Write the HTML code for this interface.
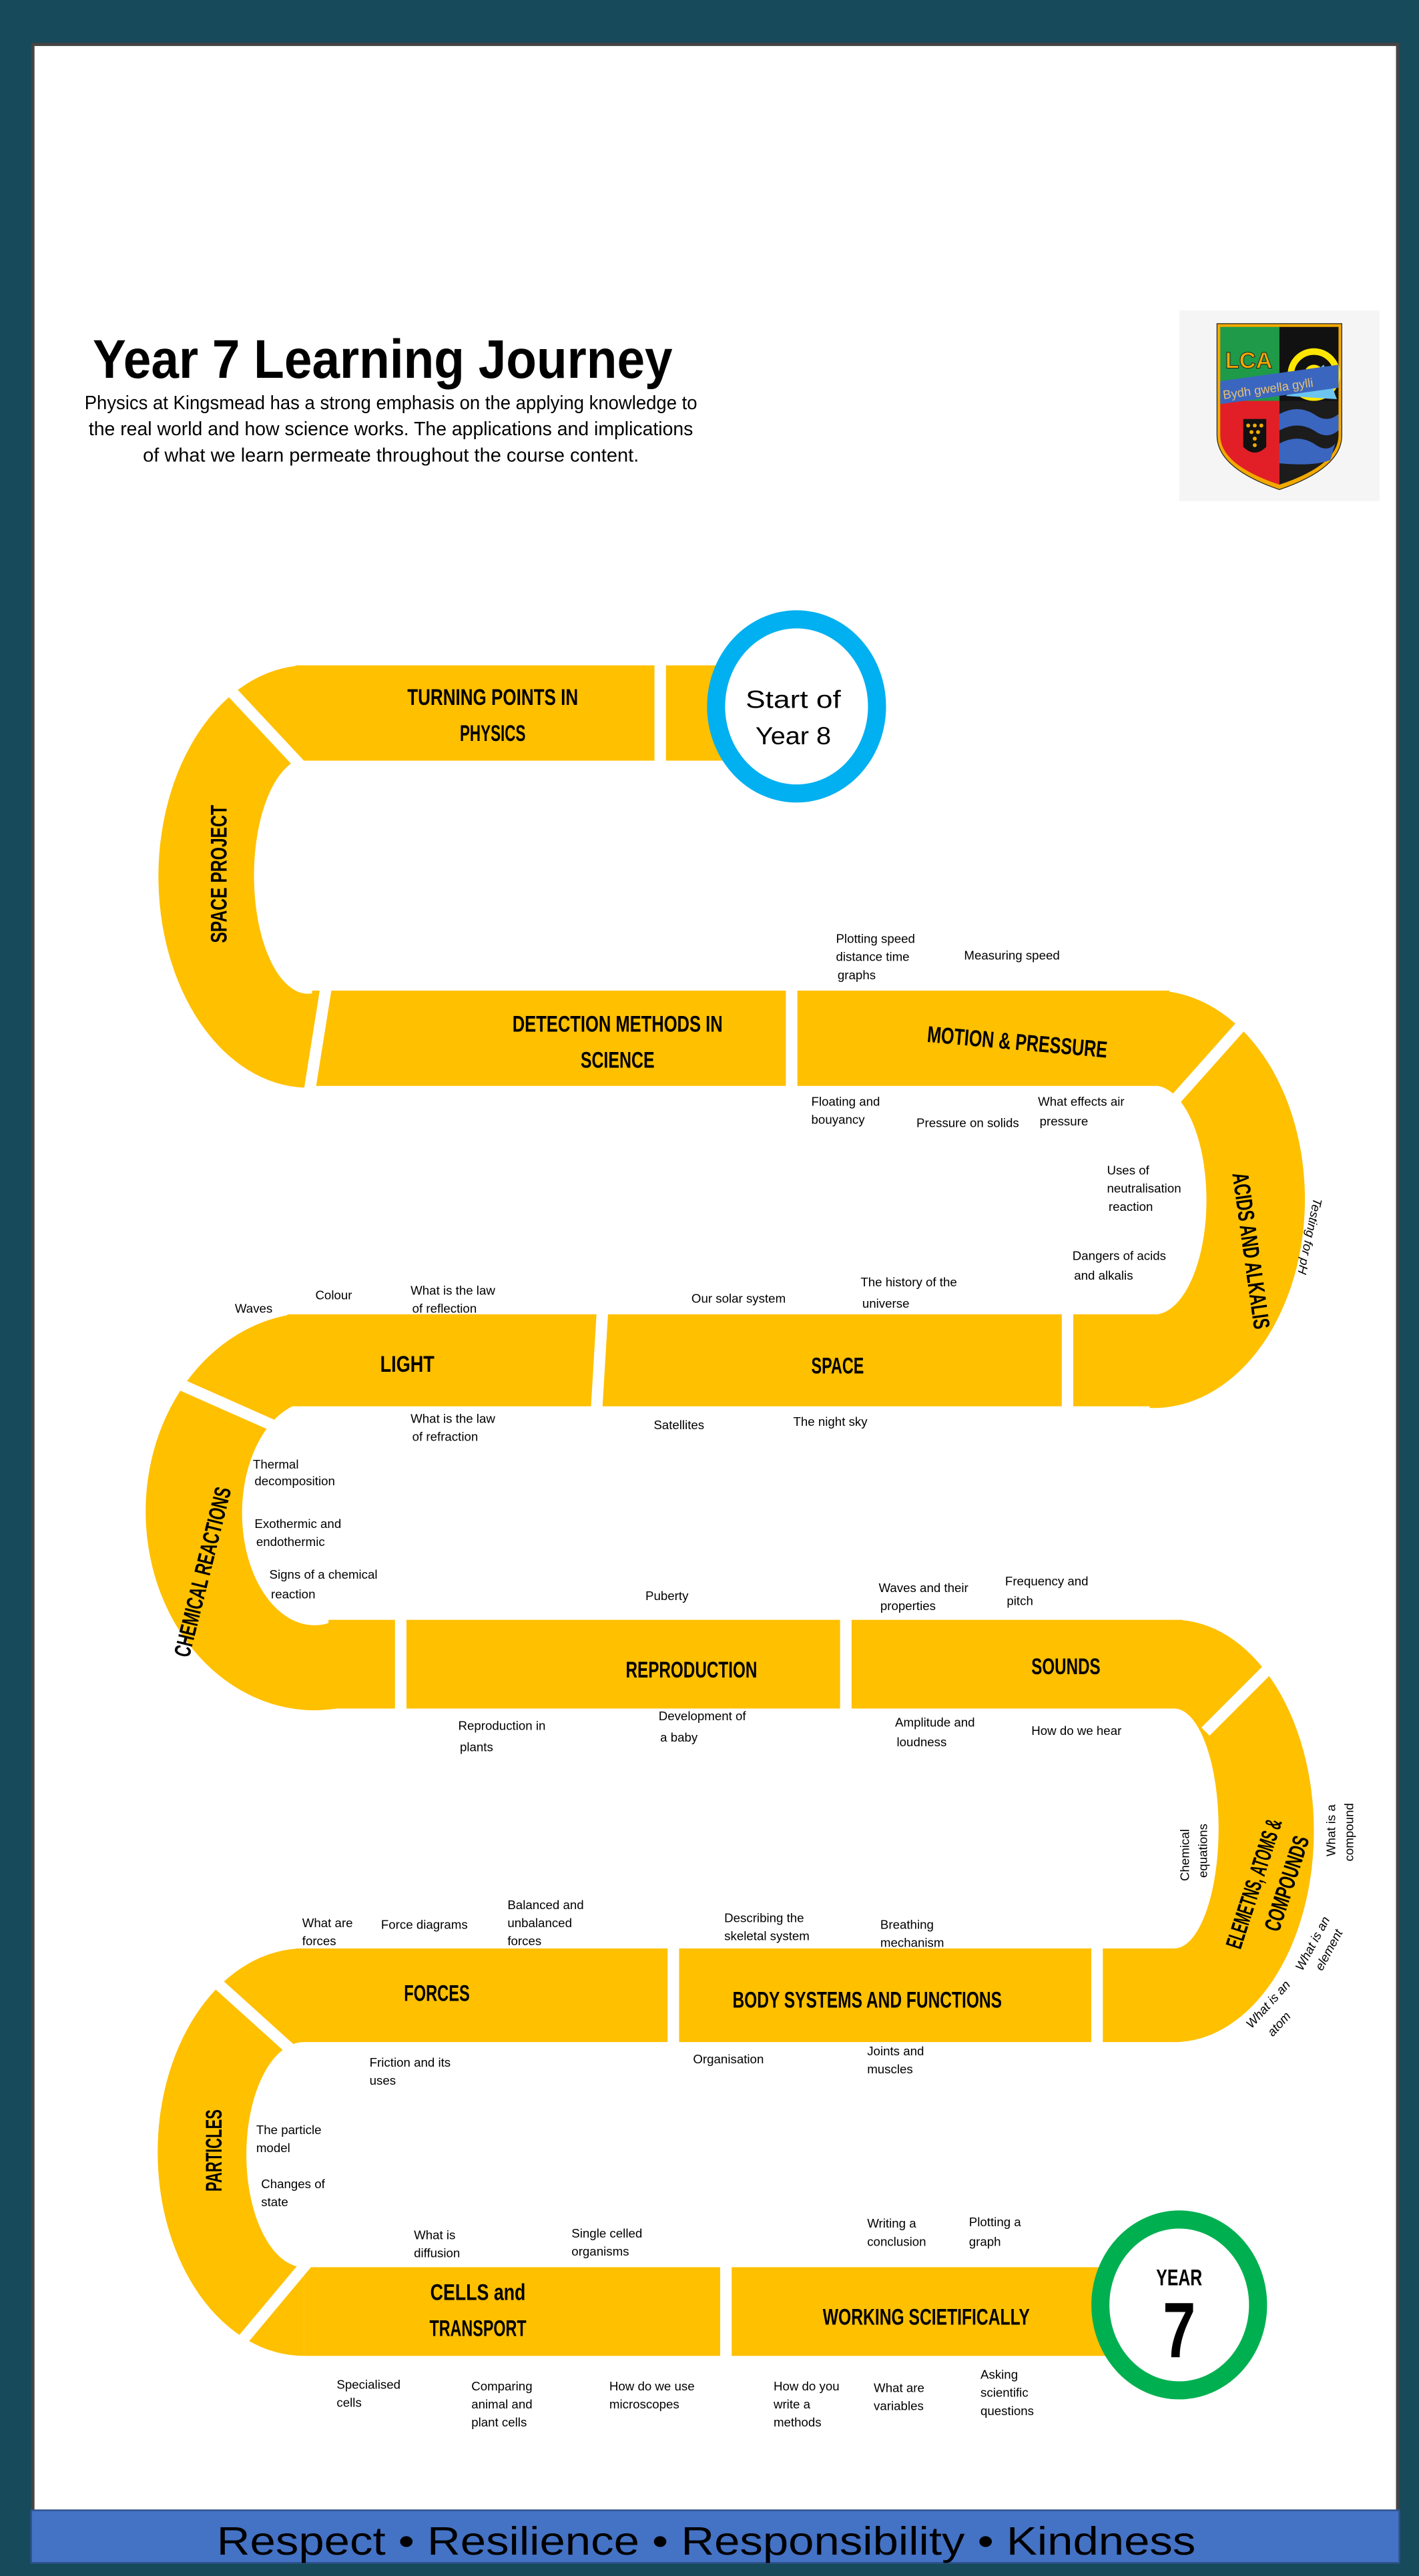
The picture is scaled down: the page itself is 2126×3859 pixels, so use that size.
<!DOCTYPE html>
<html><head><meta charset="utf-8">
<style>
html,body{margin:0;padding:0;background:#174a5a;}
svg{display:block;}
.s{font-family:"Liberation Sans Narrow","Liberation Sans",sans-serif;font-size:7.6px;fill:#000;}
.h{font-family:"Liberation Sans Narrow","Liberation Sans",sans-serif;font-weight:bold;font-size:14px;fill:#000;text-anchor:middle;}
</style></head>
<body>
<svg width="2126" height="3859" viewBox="0 0 864 1568" preserveAspectRatio="none" xmlns="http://www.w3.org/2000/svg">
<rect x="0" y="0" width="864" height="1568" fill="#174a5a"/>
<rect x="19" y="26" width="833" height="1506" fill="#444"/>
<rect x="21" y="28" width="829" height="1502" fill="#fff"/>
<!-- footer -->
<rect x="19" y="1528" width="833" height="32" fill="#4472c4" stroke="#2f528f" stroke-width="1"/>
<text x="430" y="1555" text-anchor="middle" font-family="Liberation Sans Narrow, Liberation Sans, sans-serif" font-size="24" fill="#000" textLength="596" lengthAdjust="spacingAndGlyphs">Respect  •  Resilience  •  Responsibility  •  Kindness</text>

<!-- title -->
<text x="233" y="230" text-anchor="middle" font-family="Liberation Sans Narrow, Liberation Sans, sans-serif" font-weight="bold" font-size="33" textLength="353" lengthAdjust="spacingAndGlyphs">Year 7 Learning Journey</text>
<g font-family="Liberation Sans Narrow, Liberation Sans, sans-serif" font-size="11.5" text-anchor="middle">
<text x="238" y="249" textLength="373" lengthAdjust="spacingAndGlyphs">Physics at Kingsmead has a strong emphasis on the applying knowledge to</text>
<text x="238" y="265" textLength="368" lengthAdjust="spacingAndGlyphs">the real world and how science works.  The applications and implications</text>
<text x="238" y="281" textLength="302" lengthAdjust="spacingAndGlyphs">of what we learn permeate throughout the  course content.</text>
</g>

<!-- logo -->
<rect x="718" y="189" width="122" height="116" fill="#f5f5f5"/>
<path d="M741,197 H817 V265 Q817,285 779,298 Q741,285 741,265 Z" fill="#f2a900" stroke="#222" stroke-width="0.5"/>
<path d="M743,199 H779 V244 H743 Z" fill="#1e9a48"/>
<path d="M779,199 H815 V244 H779 Z" fill="#111"/>
<path d="M743,244 H779 V295 Q743,283 743,265 Z" fill="#e21f26"/>
<path d="M779,244 H815 V265 Q815,283 779,295 Z" fill="#1c1c1c"/>
<path d="M779,252 Q790,246 800,252 Q808,258 815,252 V262 Q808,268 800,262 Q790,256 779,262 Z" fill="#3a66c0"/>
<path d="M779,270 Q790,264 800,270 Q808,276 813,270 L810,280 Q800,284 779,282 Z" fill="#3a66c0"/>
<circle cx="800" cy="228" r="14" fill="none" stroke="#ffe600" stroke-width="4"/>
<circle cx="800" cy="228" r="6" fill="#ffe600"/>
<path d="M783,241 L806,222 L814,243 Z" fill="#6cc5ef"/>
<path d="M743,232 L815,222 L815,236 L743,246 Z" fill="#3a66c0"/>
<text x="745" y="243" font-family="Liberation Sans, sans-serif" font-size="7.5" fill="#e8c070" transform="rotate(-8 745 243)">Bydh gwella gylli</text>
<text x="746" y="224" font-family="Liberation Sans, sans-serif" font-weight="bold" font-size="14" fill="#f2a900" stroke="#222" stroke-width="0.4">LCA</text>
<path d="M757,255 H771 V272 Q764,279 757,272 Z" fill="#111"/>
<g fill="#f2a900"><circle cx="760" cy="259" r="1.2"/><circle cx="764" cy="259" r="1.2"/><circle cx="768" cy="259" r="1.2"/><circle cx="762" cy="263" r="1.2"/><circle cx="766" cy="263" r="1.2"/><circle cx="764" cy="267" r="1.2"/><circle cx="764" cy="271" r="1.2"/></g>

<!-- road -->
<g fill="#ffc000">
<path d="M180,405 H440 V463 H180 Z"/>
<path d="M185,405 A91,128.5 0 0 0 190,662 L195,603 A32,70 0 0 1 180,463 Z"/>
<path d="M190,603 H712 V661 H190 Z"/>
<path d="M705,603 A92,127 0 0 1 700,857 L700,800 A32,69.5 0 0 0 705,661 Z"/>
<path d="M175,800 H705 V856 H175 Z"/>
<path d="M178,800 A102,120 0 0 0 205,1040 L205,986 A42,65 0 0 1 178,856 Z"/>
<path d="M200,986 H720 V1040 H200 Z"/>
<path d="M715,986 A85,128.5 0 0 1 715,1243 L715,1186 A27,73 0 0 0 715,1040 Z"/>
<path d="M180,1186 H718 V1243 H180 Z"/>
<path d="M185,1186 A89,124 0 0 0 185,1434 L185,1380 A35,68.5 0 0 1 185,1243 Z"/>
<path d="M185,1380 H690 V1434 H185 Z"/>
</g>
<g stroke="#fff" stroke-width="7">
<line x1="141" y1="421" x2="184" y2="467"/>
<line x1="199" y1="598" x2="188" y2="667"/>
<line x1="402" y1="398" x2="402" y2="470"/>
<line x1="482" y1="598" x2="482" y2="666"/>
<line x1="756" y1="624" x2="715" y2="670"/>
<line x1="650" y1="795" x2="650" y2="862"/>
<line x1="367" y1="795" x2="363" y2="862"/>
<line x1="106" y1="841" x2="167" y2="868"/>
<line x1="244" y1="981" x2="244" y2="1045"/>
<line x1="515" y1="981" x2="515" y2="1045"/>
<line x1="772" y1="1016" x2="734" y2="1054"/>
<line x1="668" y1="1181" x2="668" y2="1248"/>
<line x1="410" y1="1181" x2="410" y2="1248"/>
<line x1="131" y1="1206" x2="182" y2="1252"/>
<line x1="189" y1="1375" x2="148" y2="1424"/>
<line x1="442" y1="1375" x2="442" y2="1439"/>
</g>

<!-- circles -->
<ellipse cx="485" cy="430" rx="49" ry="53" fill="#fff" stroke="#00b0f0" stroke-width="11"/>
<text x="483" y="431" text-anchor="middle" font-family="Liberation Sans Narrow, Liberation Sans, sans-serif" font-size="15" textLength="58" lengthAdjust="spacingAndGlyphs">Start of</text>
<text x="483" y="453" text-anchor="middle" font-family="Liberation Sans Narrow, Liberation Sans, sans-serif" font-size="15" textLength="46" lengthAdjust="spacingAndGlyphs">Year 8</text>
<ellipse cx="718" cy="1403" rx="48" ry="52" fill="#fff" stroke="#00b050" stroke-width="11"/>
<text x="718" y="1391" class="h" font-size="14" textLength="28" lengthAdjust="spacingAndGlyphs">YEAR</text>
<text transform="translate(718,1435) scale(0.75,1)" font-family="Liberation Sans, sans-serif" font-weight="bold" font-size="48" text-anchor="middle" fill="#000">7</text>

<!-- road headings -->
<text x="300" y="429" class="h" textLength="104" lengthAdjust="spacingAndGlyphs">TURNING POINTS IN</text>
<text x="300" y="451" class="h" textLength="40" lengthAdjust="spacingAndGlyphs">PHYSICS</text>
<text transform="translate(138,532) rotate(-90)" class="h" font-size="13" textLength="84" lengthAdjust="spacingAndGlyphs">SPACE PROJECT</text>
<text x="376" y="628" class="h" textLength="128" lengthAdjust="spacingAndGlyphs">DETECTION METHODS IN</text>
<text x="376" y="650" class="h" textLength="45" lengthAdjust="spacingAndGlyphs">SCIENCE</text>
<text transform="translate(619,639) rotate(5)" class="h" textLength="110" lengthAdjust="spacingAndGlyphs">MOTION &amp; PRESSURE</text>
<text transform="translate(757,762) rotate(82)" class="h" font-size="13" textLength="96" lengthAdjust="spacingAndGlyphs">ACIDS AND ALKALIS</text>
<text transform="translate(795,752) rotate(102)" class="s" text-anchor="middle" font-style="italic">Testing for pH</text>
<text x="248" y="835" class="h" textLength="33" lengthAdjust="spacingAndGlyphs">LIGHT</text>
<text x="510" y="836" class="h" textLength="32" lengthAdjust="spacingAndGlyphs">SPACE</text>
<text transform="translate(128,958) rotate(-76)" class="h" font-size="13" textLength="106" lengthAdjust="spacingAndGlyphs">CHEMICAL REACTIONS</text>
<text x="421" y="1021" class="h" textLength="80" lengthAdjust="spacingAndGlyphs">REPRODUCTION</text>
<text x="649" y="1019" class="h" textLength="42" lengthAdjust="spacingAndGlyphs">SOUNDS</text>
<text transform="translate(768,1148) rotate(-72)" class="h" font-size="13" textLength="82" lengthAdjust="spacingAndGlyphs">ELEMETNS, ATOMS &amp;</text>
<text transform="translate(788,1148) rotate(-72)" class="h" font-size="13" textLength="60" lengthAdjust="spacingAndGlyphs">COMPOUNDS</text>
<text x="266" y="1218" class="h" textLength="40" lengthAdjust="spacingAndGlyphs">FORCES</text>
<text x="528" y="1222" class="h" textLength="164" lengthAdjust="spacingAndGlyphs">BODY SYSTEMS AND FUNCTIONS</text>
<text transform="translate(135,1309) rotate(-90)" class="h" font-size="13" textLength="50" lengthAdjust="spacingAndGlyphs">PARTICLES</text>
<text x="291" y="1400" class="h" textLength="58" lengthAdjust="spacingAndGlyphs">CELLS and</text>
<text x="291" y="1422" class="h" textLength="59" lengthAdjust="spacingAndGlyphs">TRANSPORT</text>
<text x="564" y="1415" class="h" textLength="126" lengthAdjust="spacingAndGlyphs">WORKING SCIETIFICALLY</text>

<!-- small labels -->
<g class="s">
<text x="509" y="574">Plotting speed</text><text x="509" y="585">distance time</text><text x="510" y="596">graphs</text>
<text x="587" y="584">Measuring speed</text>
<text x="494" y="673">Floating and</text><text x="494" y="684">bouyancy</text>
<text x="558" y="686">Pressure on solids</text>
<text x="632" y="673">What effects air</text><text x="633" y="685">pressure</text>
<text x="674" y="715">Uses of</text><text x="674" y="726">neutralisation</text><text x="675" y="737">reaction</text>
<text x="653" y="767">Dangers of acids</text><text x="654" y="779">and alkalis</text>
<text x="143" y="799">Waves</text>
<text x="192" y="791">Colour</text>
<text x="250" y="788">What is the law</text><text x="251" y="799">of reflection</text>
<text x="421" y="793">Our solar system</text>
<text x="524" y="783">The history of the</text><text x="525" y="796">universe</text>
<text x="250" y="866">What is the law</text><text x="251" y="877">of refraction</text>
<text x="398" y="870">Satellites</text>
<text x="483" y="868">The night sky</text>
<text x="154" y="894">Thermal</text><text x="155" y="904">decomposition</text>
<text x="155" y="930">Exothermic and</text><text x="156" y="941">endothermic</text>
<text x="164" y="961">Signs of a chemical</text><text x="165" y="973">reaction</text>
<text x="393" y="974">Puberty</text>
<text x="535" y="969">Waves and their</text><text x="536" y="980">properties</text>
<text x="612" y="965">Frequency and</text><text x="613" y="977">pitch</text>
<text x="279" y="1053">Reproduction in</text><text x="280" y="1066">plants</text>
<text x="401" y="1047">Development of</text><text x="402" y="1060">a baby</text>
<text x="545" y="1051">Amplitude and</text><text x="546" y="1063">loudness</text>
<text x="628" y="1056">How do we hear</text>
<text transform="translate(724,1145) rotate(-90)">Chemical</text><text transform="translate(735,1143) rotate(-90)">equations</text>
<text transform="translate(813,1130) rotate(-90)">What is a</text><text transform="translate(824,1133) rotate(-90)">compound</text>
<text transform="translate(793,1200) rotate(-62)" font-style="italic">What is an</text><text transform="translate(805,1200) rotate(-62)" font-style="italic">element</text>
<text transform="translate(762,1235) rotate(-48)" font-style="italic">What is an</text><text transform="translate(775,1240) rotate(-48)" font-style="italic">atom</text>
<text x="184" y="1173">What are</text><text x="184" y="1184">forces</text>
<text x="232" y="1174">Force diagrams</text>
<text x="309" y="1162">Balanced and</text><text x="309" y="1173">unbalanced</text><text x="309" y="1184">forces</text>
<text x="441" y="1170">Describing the</text><text x="441" y="1181">skeletal system</text>
<text x="536" y="1174">Breathing</text><text x="536" y="1185">mechanism</text>
<text x="225" y="1258">Friction and its</text><text x="225" y="1269">uses</text>
<text x="422" y="1256">Organisation</text>
<text x="528" y="1251">Joints and</text><text x="528" y="1262">muscles</text>
<text x="156" y="1299">The particle</text><text x="156" y="1310">model</text>
<text x="159" y="1332">Changes of</text><text x="159" y="1343">state</text>
<text x="252" y="1363">What is</text><text x="252" y="1374">diffusion</text>
<text x="348" y="1362">Single celled</text><text x="348" y="1373">organisms</text>
<text x="528" y="1356">Writing a</text><text x="528" y="1367">conclusion</text>
<text x="590" y="1355">Plotting a</text><text x="590" y="1367">graph</text>
<text x="205" y="1454">Specialised</text><text x="205" y="1465">cells</text>
<text x="287" y="1455">Comparing</text><text x="287" y="1466">animal and</text><text x="287" y="1477">plant cells</text>
<text x="371" y="1455">How do we use</text><text x="371" y="1466">microscopes</text>
<text x="471" y="1455">How do you</text><text x="471" y="1466">write a</text><text x="471" y="1477">methods</text>
<text x="532" y="1456">What are</text><text x="532" y="1467">variables</text>
<text x="597" y="1448">Asking</text><text x="597" y="1459">scientific</text><text x="597" y="1470">questions</text>
</g>
</svg>
</body></html>
